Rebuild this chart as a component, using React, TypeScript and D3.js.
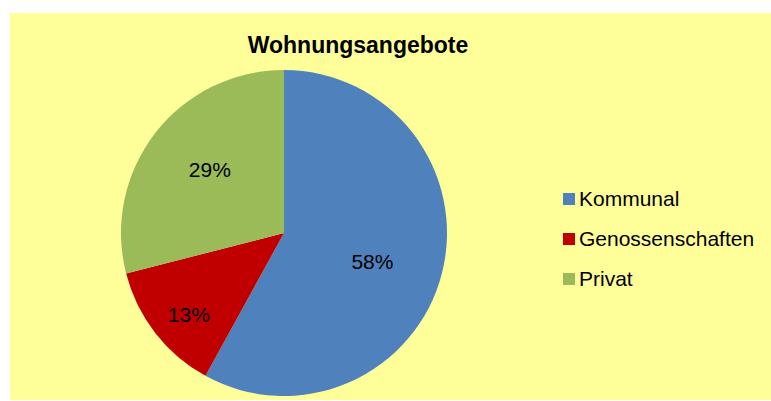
import React from "react";
import * as d3 from "d3";

const categories = ["Kommunal", "Genossenschaften", "Privat"];
const values = [58, 13, 29];
const colors = ["#4F81BD", "#C00000", "#9BBB59"];
const title = "Wohnungsangebote";

export default function App() {
  const W = 771, H = 401;
  const cx = 284, cy = 233, r = 163;
  const labelR = [0.57, 0.77, 0.6];
  const labelAngleShift = [0.06, -0.05, 0.05];
  const pie = d3.pie<number>().sort(null).value((d) => d)(values);
  const arc = d3.arc<d3.PieArcDatum<number>>().innerRadius(0).outerRadius(r);
  const total = d3.sum(values);
  const legendY = d3.scalePoint<string>().domain(categories).range([199, 279]);
  const font = "Liberation Sans, Arial, Helvetica, sans-serif";
  return (
    <svg width={W} height={H} style={{ position: "absolute", left: 0, top: 0 }}>
      <rect x={10} y={13} width={W - 10} height={387} fill="#FFFF99" />
      <text x={358} y={53} textAnchor="middle" fontFamily={font} fontWeight="bold" fontSize={23}>{title}</text>
      <g transform={`translate(${cx},${cy})`}>
        {pie.map((p, i) => (
          <path key={i} d={arc(p) || ""} fill={colors[i]} />
        ))}
        {pie.map((p, i) => {
          const a = (p.startAngle + p.endAngle) / 2 + labelAngleShift[i];
          const rr = r * labelR[i];
          const x = Math.sin(a) * rr;
          const y = -Math.cos(a) * rr;
          return (
            <text key={i} x={x} y={y} dy="0.35em" textAnchor="middle" fontFamily={font} fontSize={21}>
              {Math.round((values[i] / total) * 100)}%
            </text>
          );
        })}
      </g>
      {categories.map((c, i) => (
        <g key={c} transform={`translate(563,${legendY(c)})`}>
          <rect x={0} y={-6} width={12} height={12} fill={colors[i]} />
          <text x={16} y={0} dy="0.35em" fontFamily={font} fontSize={21}>{c}</text>
        </g>
      ))}
    </svg>
  );
}
